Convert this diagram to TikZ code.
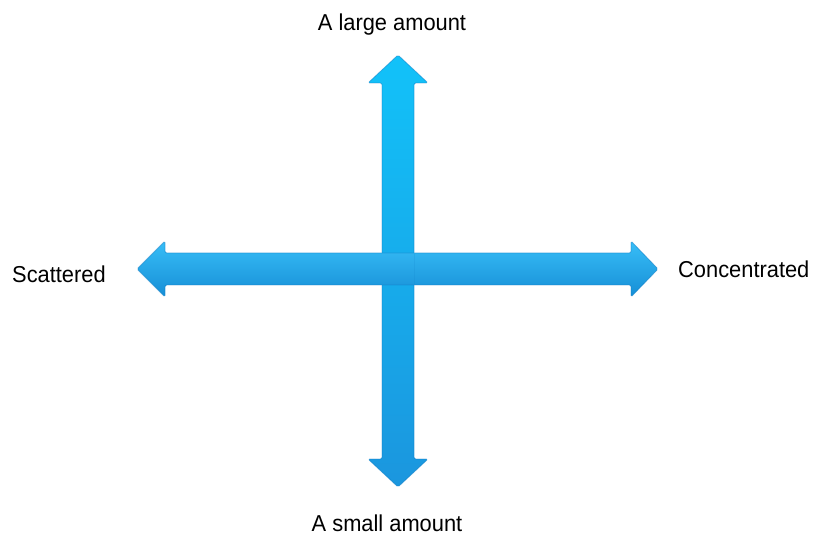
\documentclass[tikz,border=0pt]{standalone}
\usepackage{fontspec}
\setmainfont{Liberation Sans}
\newfontfamily\lab[FakeStretch=0.95]{Liberation Sans}
\definecolor{vtop}{HTML}{12C2F9}
\definecolor{vbot}{HTML}{1B96DE}
\definecolor{htop}{HTML}{38BEF7}
\definecolor{hmid}{HTML}{1EACF0}
\definecolor{hbot}{HTML}{168ED6}
\definecolor{edge}{HTML}{0E7CC4}
\begin{document}
\begin{tikzpicture}[x=1pt,y=-1pt,
  labeltext/.style={inner sep=0pt, font=\lab\fontsize{23}{27}\selectfont, text=black},
  bevel/.style={draw=edge, draw opacity=0.5, line width=0.8pt, line join=round}]
\useasboundingbox (0,0) rectangle (819,537);
\fill[white] (0,0) rectangle (819,537);
% vertical arrow
\shade[top color=vtop, bottom color=vbot, bevel, rounded corners=1.5pt]
  (398,55) -- (428,83) -- (414,83) -- (414,459) -- (428,459) -- (398,487)
  -- (368,459) -- (382,459) -- (382,83) -- (368,83) -- cycle;
% horizontal arrow
\shade[top color=htop, middle color=hmid, bottom color=hbot, bevel, rounded corners=1.5pt]
  (137,269) -- (165,241) -- (165,253) -- (631,253) -- (631,241) -- (658,269)
  -- (631,297) -- (631,285) -- (165,285) -- (165,297) -- cycle;
% faint continuation of the vertical shaft edge over the crossing
\draw[edge, opacity=0.15, line width=0.8pt] (414,254) -- (414,284);
% labels
\node[labeltext, anchor=base] (top) at (392,31) {A large amount};
\node[labeltext, anchor=base] (bottom) at (387,531) {A small amount};
\node[labeltext, anchor=base west] (left) at (12,283) {Scattered};
\node[labeltext, anchor=base west] (right) at (678,278) {Concentrated};
\end{tikzpicture}
\end{document}
